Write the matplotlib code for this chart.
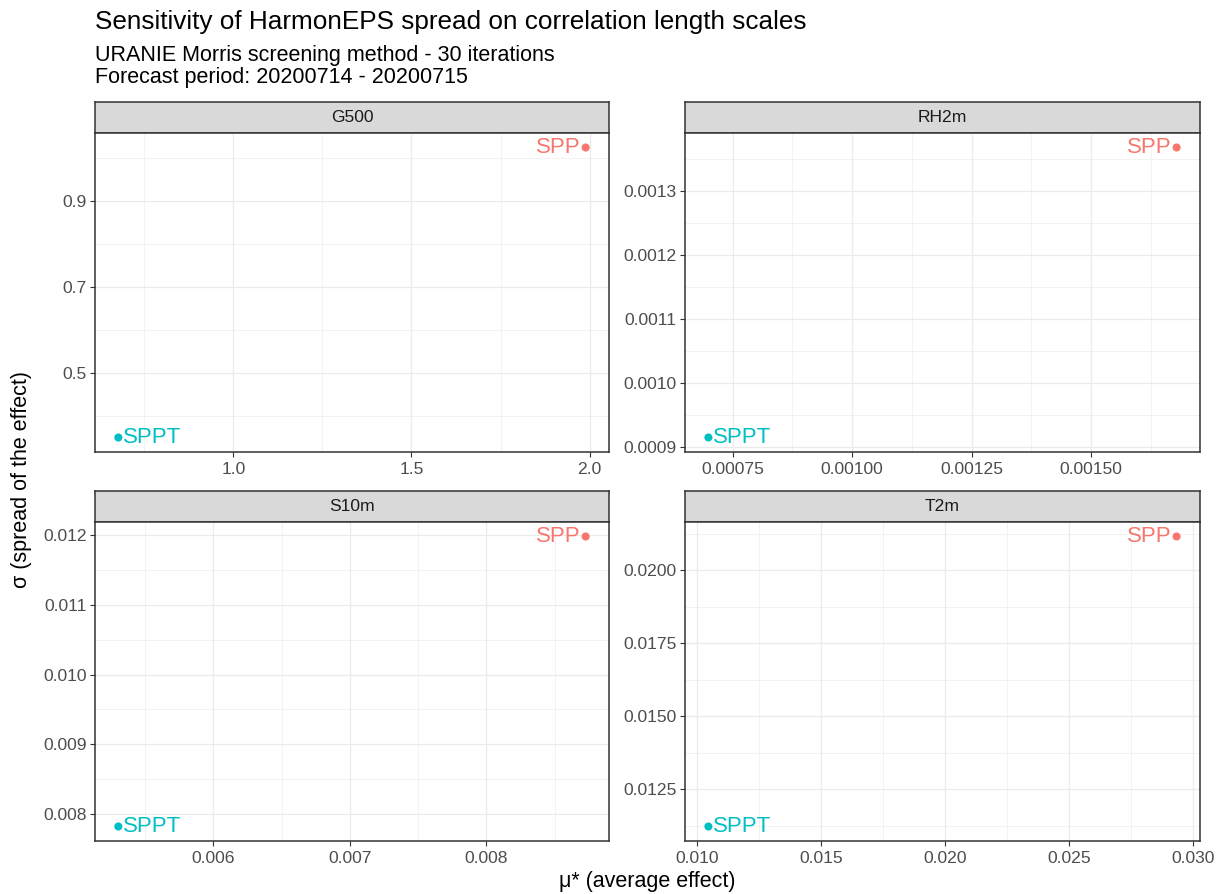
import matplotlib.pyplot as plt
from matplotlib.ticker import MultipleLocator, StrMethodFormatter
import numpy as np

plt.rcParams['font.family'] = ['Liberation Sans', 'DejaVu Sans']

# Morris screening results per variable (mu* = average effect, sigma = spread)
facets = ['G500', 'RH2m', 'S10m', 'T2m']
params = ['SPP', 'SPPT']
mu_spp = [1.989, 0.0016795, 0.008726, 0.029323]
sigma_spp = [1.025, 0.0013686, 0.011981, 0.021149]
mu_sppt = [0.677, 0.000699, 0.005305, 0.010459]
sigma_sppt = [0.351, 0.0009156, 0.007819, 0.011226]

# axis breaks for each facet: (x step, y step, y offset, x fmt, y fmt)
axis_cfg = {
    'G500': (0.5, 0.2, 0.1, '{x:.1f}', '{x:.1f}'),
    'RH2m': (0.00025, 0.0001, 0.0, '{x:.5f}', '{x:.4f}'),
    'S10m': (0.001, 0.001, 0.0, '{x:.3f}', '{x:.3f}'),
    'T2m': (0.005, 0.0025, 0.0, '{x:.3f}', '{x:.4f}'),
}

col_spp = '#F8766D'
col_sppt = '#00BFC4'

W, H = 1228, 894
fig = plt.figure(figsize=(W / 100, H / 100), dpi=100)

# panel boxes in pixels: left/right per column, strip top / strip bottom / panel bottom per row
cols = [(95, 609), (685, 1200)]
rows = [(102, 133, 452), (491, 522, 841)]


def box(l, r, t, b):
    return [l / W, 1 - b / H, (r - l) / W, (b - t) / H]


for i, name in enumerate(facets):
    l, r = cols[i % 2]
    st, sb, pb = rows[i // 2]

    strip = fig.add_axes(box(l, r, st, sb))
    strip.set_facecolor('#D9D9D9')
    strip.set_xticks([])
    strip.set_yticks([])
    for s in strip.spines.values():
        s.set_color('#333333')
        s.set_linewidth(1.1)
    strip.text(0.5, 0.5, name, ha='center', va='center', fontsize=12.6, color='#1A1A1A',
               transform=strip.transAxes)

    ax = fig.add_axes(box(l, r, sb, pb))
    xs = [mu_spp[i], mu_sppt[i]]
    ys = [sigma_spp[i], sigma_sppt[i]]
    ax.scatter(xs, ys, s=34, c=[col_spp, col_sppt], zorder=3, linewidths=0)
    ax.annotate('SPP', (mu_spp[i], sigma_spp[i]), xytext=(-3.5, 0), textcoords='offset points',
                ha='right', va='center', fontsize=16, color=col_spp)
    ax.annotate('SPPT', (mu_sppt[i], sigma_sppt[i]), xytext=(3, 0), textcoords='offset points',
                ha='left', va='center', fontsize=16, color=col_sppt)

    # ggplot style 5% expansion
    dx = (max(xs) - min(xs)) * 0.05
    dy = (max(ys) - min(ys)) * 0.05
    ax.set_xlim(min(xs) - dx, max(xs) + dx)
    ax.set_ylim(min(ys) - dy, max(ys) + dy)

    xstep, ystep, yoff, xfmt, yfmt = axis_cfg[name]
    ax.xaxis.set_major_locator(MultipleLocator(xstep))
    ax.xaxis.set_minor_locator(MultipleLocator(xstep / 2))
    ax.yaxis.set_major_locator(MultipleLocator(ystep, offset=yoff))
    ax.yaxis.set_minor_locator(MultipleLocator(ystep / 2))
    ax.xaxis.set_major_formatter(StrMethodFormatter(xfmt))
    ax.yaxis.set_major_formatter(StrMethodFormatter(yfmt))

    ax.grid(which='major', color='#EBEBEB', linewidth=0.9)
    ax.grid(which='minor', color='#EBEBEB', linewidth=0.45)
    ax.set_axisbelow(True)
    ax.tick_params(which='major', length=3.5, width=0.8, color='#333333',
                   labelsize=12.6, labelcolor='#4D4D4D', pad=2.5)
    ax.tick_params(axis='x', which='major', pad=3.5)
    ax.tick_params(which='minor', length=0)
    for s in ax.spines.values():
        s.set_color('#333333')
        s.set_linewidth(1.1)

fig.text(95 / W, 1 - 29 / H, 'Sensitivity of HarmonEPS spread on correlation length scales',
         fontsize=18.8, va='baseline', ha='left')
fig.text(95 / W, 1 - 61 / H, 'URANIE Morris screening method - 30 iterations',
         fontsize=15.5, va='baseline', ha='left')
fig.text(95 / W, 1 - 83 / H, 'Forecast period: 20200714 - 20200715',
         fontsize=15.5, va='baseline', ha='left')

fig.text(647 / W, 1 - 882 / H, 'μ* (average effect)', fontsize=15.5, ha='center', va='center')
fig.text(22 / W, 1 - 480 / H, 'σ (spread of the effect)', fontsize=15.5, ha='center', va='center',
         rotation=90)

fig.savefig('out.png', dpi=100, facecolor='white')
